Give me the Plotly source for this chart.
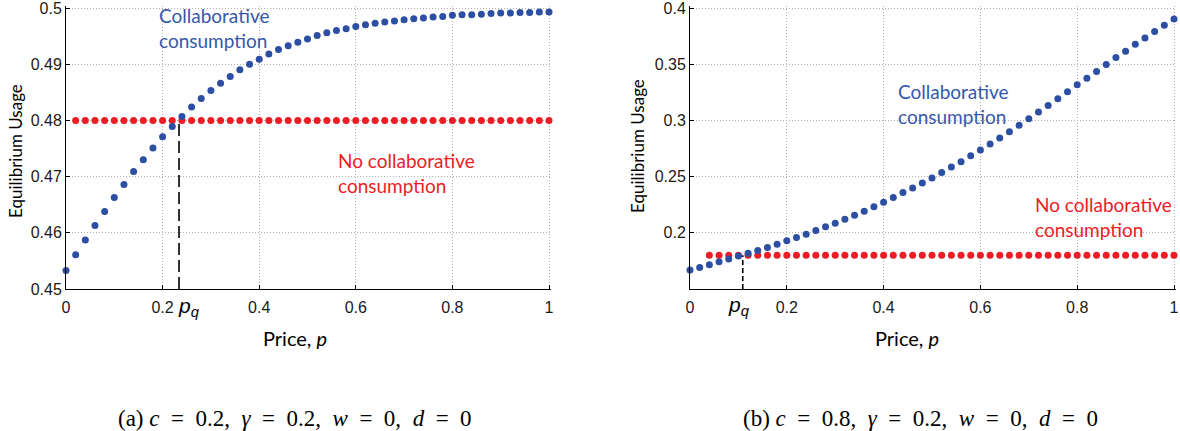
import plotly.graph_objects as go

# ---------------- data ----------------
price = [0.00, 0.02, 0.04, 0.06, 0.08, 0.10, 0.12, 0.14, 0.16, 0.18,
         0.20, 0.22, 0.24, 0.26, 0.28, 0.30, 0.32, 0.34, 0.36, 0.38,
         0.40, 0.42, 0.44, 0.46, 0.48, 0.50, 0.52, 0.54, 0.56, 0.58,
         0.60, 0.62, 0.64, 0.66, 0.68, 0.70, 0.72, 0.74, 0.76, 0.78,
         0.80, 0.82, 0.84, 0.86, 0.88, 0.90, 0.92, 0.94, 0.96, 0.98, 1.00]

collab_a = [0.4533, 0.4561, 0.4587, 0.4613, 0.4638, 0.4663, 0.4686, 0.4709, 0.4730, 0.4751,
            0.4771, 0.4789, 0.4807, 0.4824, 0.4839, 0.4853, 0.4866, 0.4878, 0.4890, 0.4900,
            0.4909, 0.4918, 0.4926, 0.4933, 0.4939, 0.4945, 0.4951, 0.4956, 0.4960, 0.4963,
            0.4967, 0.4970, 0.4973, 0.4975, 0.4977, 0.4979, 0.4981, 0.4982, 0.4984, 0.4985,
            0.4987, 0.4988, 0.4988, 0.4989, 0.4990, 0.4991, 0.4991, 0.4992, 0.4992, 0.4993, 0.4993]

price_no_a = price[1:]
no_collab_a = [0.48, 0.48, 0.48, 0.48, 0.48, 0.48, 0.48, 0.48, 0.48, 0.48,
               0.48, 0.48, 0.48, 0.48, 0.48, 0.48, 0.48, 0.48, 0.48, 0.48,
               0.48, 0.48, 0.48, 0.48, 0.48, 0.48, 0.48, 0.48, 0.48, 0.48,
               0.48, 0.48, 0.48, 0.48, 0.48, 0.48, 0.48, 0.48, 0.48, 0.48,
               0.48, 0.48, 0.48, 0.48, 0.48, 0.48, 0.48, 0.48, 0.48, 0.48]

collab_b = [0.1669, 0.1692, 0.1716, 0.1743, 0.1766, 0.1793, 0.1817, 0.1843, 0.1870, 0.1899,
            0.1929, 0.1959, 0.1988, 0.2021, 0.2053, 0.2086, 0.2121, 0.2157, 0.2192, 0.2231,
            0.2272, 0.2313, 0.2358, 0.2399, 0.2444, 0.2488, 0.2536, 0.2586, 0.2633, 0.2686,
            0.2737, 0.2790, 0.2843, 0.2899, 0.2956, 0.3015, 0.3074, 0.3133, 0.3192, 0.3254,
            0.3317, 0.3376, 0.3435, 0.3497, 0.3559, 0.3615, 0.3678, 0.3734, 0.3790, 0.3846, 0.3902]

price_no_b = price[2:]
no_collab_b = [0.18, 0.18, 0.18, 0.18, 0.18, 0.18, 0.18, 0.18, 0.18, 0.18,
               0.18, 0.18, 0.18, 0.18, 0.18, 0.18, 0.18, 0.18, 0.18, 0.18,
               0.18, 0.18, 0.18, 0.18, 0.18, 0.18, 0.18, 0.18, 0.18, 0.18,
               0.18, 0.18, 0.18, 0.18, 0.18, 0.18, 0.18, 0.18, 0.18, 0.18,
               0.18, 0.18, 0.18, 0.18, 0.18, 0.18, 0.18, 0.18, 0.18]

pq_a = 0.234
pq_b = 0.109

x_ticks = [0, 0.2, 0.4, 0.6, 0.8, 1]
x_ticklabels = ["0", "0.2", "0.4", "0.6", "0.8", "1"]
y_ticks_a = [0.45, 0.46, 0.47, 0.48, 0.49, 0.5]
y_ticklabels_a = ["0.45", "0.46", "0.47", "0.48", "0.49", "0.5"]
y_ticks_b = [0.2, 0.25, 0.3, 0.35, 0.4]
y_ticklabels_b = ["0.2", "0.25", "0.3", "0.35", "0.4"]

S = "\u00a0"
EQ = f"{S}{S}={S}{S}"
SEP = f",{S}{S}"
caption_a = f"(a){S}<i>c</i>{EQ}0.2{SEP}<i>γ</i>{EQ}0.2{SEP}<i>w</i>{EQ}0{SEP}<i>d</i>{EQ}0"
caption_b = f"(b){S}<i>c</i>{EQ}0.8{SEP}<i>γ</i>{EQ}0.2{SEP}<i>w</i>{EQ}0{SEP}<i>d</i>{EQ}0"

# ---------------- style ----------------
BLUE = "#2c4fa3"
BLUE_TXT = "#3658aa"
RED = "#ee1c25"
W, H = 1180, 431
LBL_FONT = "Lato"
TICK_FONT = "Liberation Sans"

# plot area geometry (pixels); 2px of extra room so edge gridlines are drawn
TOP, BOT, PAD = 8, 289, 2
XA0, XA1 = 66, 549
XB0, XB1 = 690, 1174

fig = go.Figure()

marker_blue = dict(color=BLUE, size=7)
marker_red = dict(color=RED, size=7)

fig.add_trace(go.Scatter(x=price_no_a, y=no_collab_a, mode="markers", marker=marker_red,
                         xaxis="x", yaxis="y", cliponaxis=False, showlegend=False))
fig.add_trace(go.Scatter(x=price, y=collab_a, mode="markers", marker=marker_blue,
                         xaxis="x", yaxis="y", cliponaxis=False, showlegend=False))
fig.add_trace(go.Scatter(x=price_no_b, y=no_collab_b, mode="markers", marker=marker_red,
                         xaxis="x2", yaxis="y2", cliponaxis=False, showlegend=False))
fig.add_trace(go.Scatter(x=price, y=collab_b, mode="markers", marker=marker_blue,
                         xaxis="x2", yaxis="y2", cliponaxis=False, showlegend=False))

# dashed p_q lines
fig.add_trace(go.Scatter(x=[pq_a, pq_a], y=[0.45, no_collab_a[0]], mode="lines",
                         line=dict(color="black", width=1.6, dash="12px,5px"),
                         xaxis="x", yaxis="y", showlegend=False))
fig.add_trace(go.Scatter(x=[pq_b, pq_b], y=[0.15, no_collab_b[0]], mode="lines",
                         line=dict(color="black", width=1.6, dash="5px,3px"),
                         xaxis="x2", yaxis="y2", showlegend=False))

ydom = [(H - BOT) / H, (H - TOP + PAD) / H]
ya_top = 0.5 + PAD * 0.05 / (BOT - TOP)
yb_top = 0.4 + PAD * 0.25 / (BOT - TOP)
xa_end = 1 + PAD / (XA1 - XA0)
xb_end = 1 + PAD / (XB1 - XB0)

axis_common = dict(showline=True, linecolor="black", linewidth=1, ticks="inside",
                   ticklen=4, tickcolor="black", showgrid=True, gridcolor="#b0b0b0",
                   griddash="1px,2px", gridwidth=1, zeroline=False, mirror=False,
                   automargin=False, ticklabeloverflow="allow",
                   tickfont=dict(family=TICK_FONT, size=16, color="#1a1a1a"))

fig.update_layout(
    width=W, height=H, margin=dict(l=0, r=0, t=0, b=0),
    paper_bgcolor="white", plot_bgcolor="white",
    xaxis=dict(domain=[XA0 / W, (XA1 + PAD) / W], range=[0, xa_end], tickvals=x_ticks,
               ticktext=x_ticklabels, anchor="y", ticklabelstandoff=4, **axis_common),
    yaxis=dict(domain=ydom, range=[0.45, ya_top], tickvals=y_ticks_a,
               ticktext=y_ticklabels_a, anchor="x", **axis_common),
    xaxis2=dict(domain=[XB0 / W, (XB1 + PAD) / W], range=[0, xb_end], tickvals=x_ticks,
                ticktext=x_ticklabels, anchor="y2", ticklabelstandoff=4, **axis_common),
    yaxis2=dict(domain=ydom, range=[0.15, yb_top], tickvals=y_ticks_b,
                ticktext=y_ticklabels_b, anchor="x2", **axis_common),
)

ann = []
# series labels
ann.append(dict(x=0.188, y=0.4964, xref="x", yref="y", text="Collaborative<br>consumption",
                showarrow=False, xanchor="left", yanchor="middle", align="left",
                font=dict(family=LBL_FONT, size=19, color=BLUE_TXT)))
ann.append(dict(x=0.558, y=0.4706, xref="x", yref="y", text="No collaborative<br>consumption",
                showarrow=False, xanchor="left", yanchor="middle", align="left",
                font=dict(family=LBL_FONT, size=19, color=RED)))
ann.append(dict(x=0.426, y=0.3146, xref="x2", yref="y2", text="Collaborative<br>consumption",
                showarrow=False, xanchor="left", yanchor="middle", align="left",
                font=dict(family=LBL_FONT, size=19, color=BLUE_TXT)))
ann.append(dict(x=0.708, y=0.214, xref="x2", yref="y2", text="No collaborative<br>consumption",
                showarrow=False, xanchor="left", yanchor="middle", align="left",
                font=dict(family=LBL_FONT, size=19, color=RED)))

# p_q labels
ann.append(dict(x=pq_a - 0.006, y=(H - 307) / H, xref="x", yref="paper",
                text="<i>p</i><sub><i>q</i></sub>", showarrow=False, xanchor="left",
                yanchor="middle", font=dict(family="Liberation Sans", size=21, color="black")))
ann.append(dict(x=pq_b - 0.034, y=(H - 306) / H, xref="x2", yref="paper",
                text="<i>p</i><sub><i>q</i></sub>", showarrow=False, xanchor="left",
                yanchor="middle", font=dict(family="Liberation Sans", size=21, color="black")))

# axis titles
for xc, yc in [(15, 151), (637, 146)]:
    ann.append(dict(x=xc / W, y=(H - yc) / H, xref="paper", yref="paper",
                    text="Equilibrium Usage", textangle=-90, showarrow=False,
                    xanchor="center", yanchor="middle",
                    font=dict(family=LBL_FONT, size=17, color="black")))
for xc in [295, 907]:
    ann.append(dict(x=xc / W, y=(H - 338) / H, xref="paper", yref="paper",
                    text="Price, <i>p</i>", showarrow=False,
                    xanchor="center", yanchor="middle",
                    font=dict(family=LBL_FONT, size=20, color="black")))

# captions
for xc, txt in [(295, caption_a), (920, caption_b)]:
    ann.append(dict(x=xc / W, y=(H - 418) / H, xref="paper", yref="paper",
                    text=txt, showarrow=False, xanchor="center", yanchor="middle",
                    font=dict(family="Liberation Serif", size=23, color="black")))

fig.update_layout(annotations=ann)
fig.write_html("out.html")
